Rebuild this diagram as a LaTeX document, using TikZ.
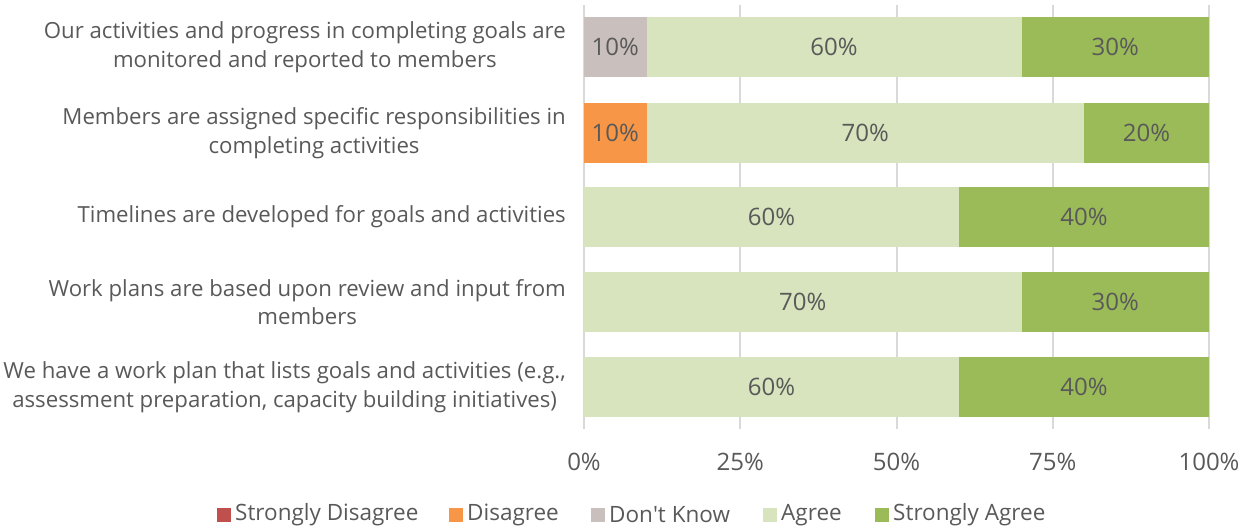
\documentclass[tikz,border=0pt]{standalone}
\usepackage{fontspec}
\setmainfont{Open Sans}
\definecolor{txt}{HTML}{595959}
\definecolor{grid}{HTML}{D9D9D9}
\definecolor{sdis}{HTML}{C0504D}
\definecolor{dis}{HTML}{F79646}
\definecolor{dk}{HTML}{C9C0BD}
\definecolor{agr}{HTML}{D7E4BD}
\definecolor{sagr}{HTML}{9BBB59}
\tikzset{
  lbl/.style={anchor=east,align=center,text=txt,font=\fontsize{22.2}{28.5}\selectfont,inner sep=0pt},
  pct/.style={text=txt,font=\fontsize{24}{28}\selectfont,inner sep=0pt},
  tick/.style={text=txt,font=\fontsize{24}{28}\selectfont,inner sep=0pt},
  leg/.style={anchor=west,text=txt,font=\fontsize{22.5}{26}\selectfont,inner sep=0pt},
  gl/.style={draw=grid,line width=2pt},
}
\begin{document}
\begin{tikzpicture}[x=1pt,y=-1pt]
\useasboundingbox (0,0) rectangle (1249,531);
% gridlines
\foreach \p/\n in {0/g0,25/g25,50/g50,75/g75,100/g100}{
  \coordinate (\n t) at ({584+6.25*\p},5);
  \coordinate (\n b) at ({584+6.25*\p},429);
  \draw[gl] (\n t) -- (\n b);
  \node[tick] (\n l) at ({584+6.25*\p},462) {\p\%};
}
\newcommand{\seg}[5]{% y, start%, width%, color, name
  \fill[#4] ({584+6.25*#2},{#1-30}) rectangle ({584+6.25*(#2+#3)},{#1+30});
  \node[pct] (#5) at ({584+6.25*(#2+#3/2)},#1) {#3\%};
}
% row 1
\seg{47}{0}{10}{dk}{r1a}
\seg{47}{10}{60}{agr}{r1b}
\seg{47}{70}{30}{sagr}{r1c}
% row 2
\seg{133}{0}{10}{dis}{r2a}
\seg{133}{10}{70}{agr}{r2b}
\seg{133}{80}{20}{sagr}{r2c}
% row 3
\seg{217}{0}{60}{agr}{r3b}
\seg{217}{60}{40}{sagr}{r3c}
% row 4
\seg{302}{0}{70}{agr}{r4b}
\seg{302}{70}{30}{sagr}{r4c}
% row 5
\seg{387}{0}{60}{agr}{r5b}
\seg{387}{60}{40}{sagr}{r5c}
% category labels
\node[lbl] (c1) at (566,47) {Our activities and progress in completing goals are\\monitored and reported to members};
\node[lbl] (c2) at (566,133) {Members are assigned specific responsibilities in\\completing activities};
\node[lbl] (c3) at (566,217) {Timelines are developed for goals and activities};
\node[lbl] (c4) at (566,302) {Work plans are based upon review and input from\\members};
\node[lbl] (c5) at (566,387) {We have a work plan that lists goals and activities (e.g.,\\assessment preparation, capacity building initiatives)};
% legend
\fill[sdis] (217,508) rectangle (231,522);
\node[leg] (l1) at (235,515) {Strongly Disagree};
\fill[dis] (449,508) rectangle (463,522);
\node[leg] (l2) at (467,515) {Disagree};
\fill[dk] (591,508) rectangle (605,522);
\node[leg] (l3) at (609,515) {Don\textquotesingle t Know};
\fill[agr] (763,508) rectangle (777,522);
\node[leg] (l4) at (781,515) {Agree};
\fill[sagr] (875,508) rectangle (889,522);
\node[leg] (l5) at (893,515) {Strongly Agree};
\end{tikzpicture}
\end{document}
